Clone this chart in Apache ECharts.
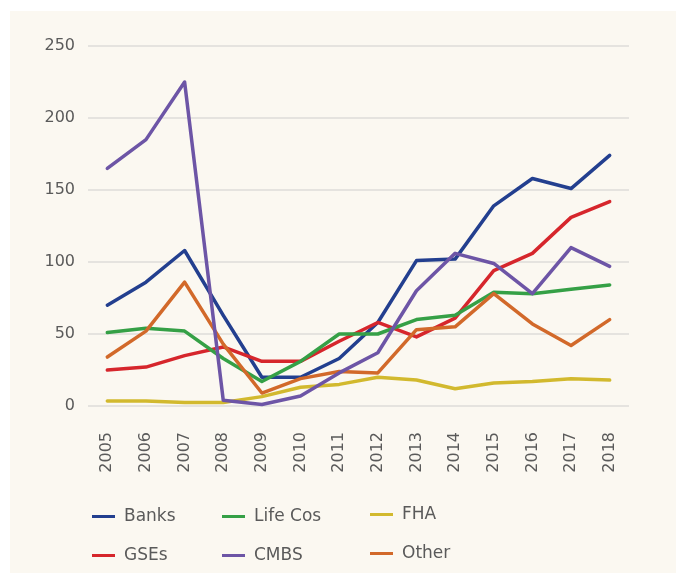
<!DOCTYPE html>
<html><head><meta charset="utf-8">
<script src="https://cdn.jsdelivr.net/npm/echarts@6/dist/echarts.min.js"></script>
<style>
html,body{margin:0;padding:0;background:#fff;}
#bg{position:absolute;left:10px;top:11px;width:666px;height:562px;background:#FBF8F1;}
#c{position:absolute;left:0;top:0;width:676px;height:573px;}
</style></head>
<body><div id="bg"></div><div id="c"></div>
<script>
const years = ['2005','2006','2007','2008','2009','2010','2011','2012','2013','2014','2015','2016','2017','2018'];
const banks   = [70, 86, 108, 63, 20, 20, 33, 58, 101, 102, 139, 158, 151, 174];
const gses    = [25, 27, 35, 41, 31, 31, 45, 58, 48, 61, 94, 106, 131, 142];
const lifeCos = [51, 54, 52, 33, 17, 31, 50, 50, 60, 63, 79, 78, 81, 84];
const cmbs    = [165, 185, 225, 4, 1, 7, 23, 37, 80, 106, 99, 78, 110, 97];
const fha     = [3.5, 3.5, 2.5, 2.5, 6.5, 13, 15, 20, 18, 12, 16, 17, 19, 18];
const other   = [34, 52, 86, 43, 9, 19, 24, 23, 53, 55, 78, 57, 42, 60];
const yTicks  = [0, 50, 100, 150, 200, 250];

const colors = {Banks:'#233F8F', GSEs:'#D6262C', 'Life Cos':'#35A046', CMBS:'#6D55A6', FHA:'#D2B92E', Other:'#D2692A'};
const font = '"DejaVu Sans", Lato, sans-serif';
function mk(name, data){
  return {name, type:'line', data, symbol:'none', smooth:false,
    lineStyle:{width:3.5, color:colors[name], cap:'round', join:'round'},
    itemStyle:{color:colors[name]}, z: name==='CMBS'?3:2};
}
function leg(names, left, top){
  return {orient:'vertical', left, top, itemGap:22, itemWidth:23, itemHeight:3, icon:'rect',
    data:names, textStyle:{fontFamily:font, fontSize:17, color:'#5a5a5a', padding:[0,0,0,4]}};
}
const chart = echarts.init(document.getElementById('c'), null, {renderer:'canvas'});
chart.setOption({
  animation:false,
  backgroundColor:'transparent',
  grid:{left:88, right:47, top:46, bottom:167, containLabel:false},
  xAxis:{type:'category', data:years, boundaryGap:true,
    axisLine:{show:false}, axisTick:{show:false},
    axisLabel:{rotate:90, margin:26, fontFamily:font, fontSize:16, color:'#5a5a5a'}},
  yAxis:{type:'value', min:0, max:250, interval:50,
    axisLine:{show:false}, axisTick:{show:false},
    splitLine:{lineStyle:{color:'#DEDCD8', width:1.5}},
    axisLabel:{margin:13, fontFamily:font, fontSize:16, color:'#5a5a5a',
      formatter:v=> yTicks.includes(v)? String(v):''}},
  legend:[leg(['Banks','GSEs'],87,503), leg(['Life Cos','CMBS'],217,503), leg(['FHA','Other'],365,501)],
  series:[mk('Banks',banks), mk('GSEs',gses), mk('Life Cos',lifeCos), mk('CMBS',cmbs), mk('FHA',fha), mk('Other',other)]
});
</script></body></html>
